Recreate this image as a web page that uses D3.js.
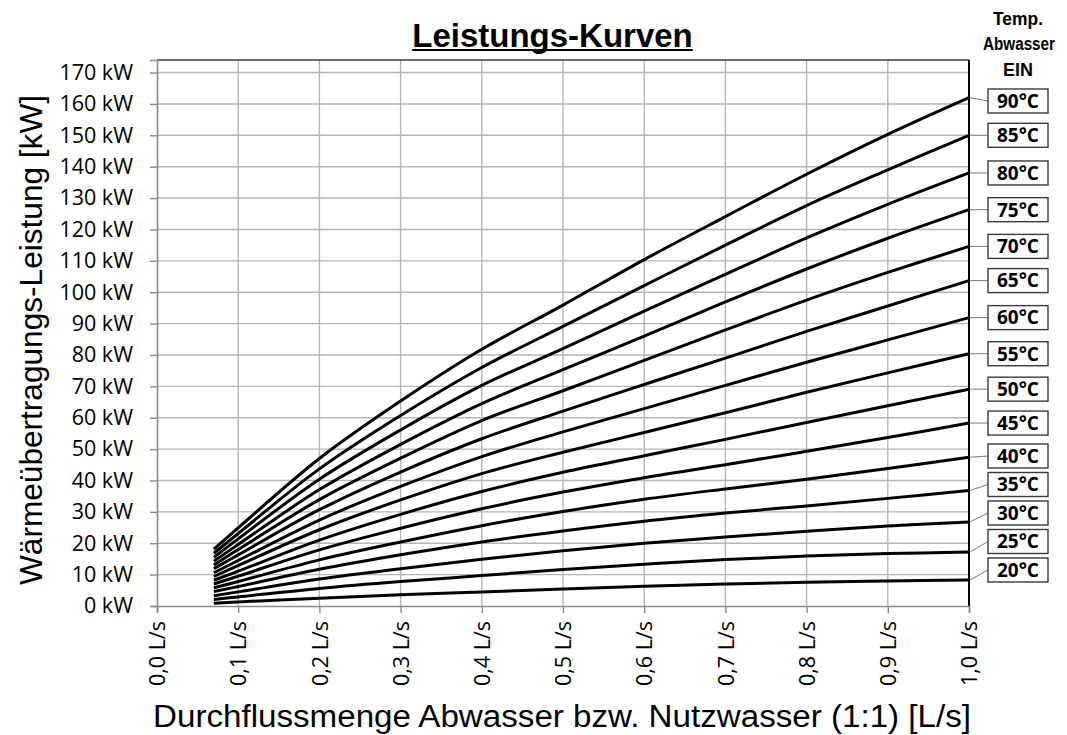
<!DOCTYPE html>
<html><head><meta charset="utf-8">
<script src="https://cdn.jsdelivr.net/npm/d3@7"></script>
<style>body{margin:0;background:#fff} svg{display:block}</style>
</head><body><svg id="c" width="1067" height="735"></svg>
<script>
// ---- data ----
const flows = [0.07, 0.1, 0.2, 0.3, 0.4, 0.5, 0.6, 0.7, 0.8, 0.9, 1.0];
const temps = [90, 85, 80, 75, 70, 65, 60, 55, 50, 45, 40, 35, 30, 25, 20];
const p90 = [18.1, 24.9, 47.0, 65.3, 81.8, 95.9, 110.4, 124.1, 137.6, 150.3, 162.0];
const p85 = [16.8, 23.1, 43.7, 60.7, 76.0, 89.1, 102.1, 115.0, 127.6, 139.0, 150.0];
const p80 = [15.5, 21.4, 40.4, 56.1, 70.3, 82.0, 94.0, 105.7, 117.3, 128.0, 138.0];
const p75 = [14.3, 19.6, 37.1, 51.5, 64.5, 75.3, 86.0, 96.9, 107.4, 117.2, 126.3];
const p70 = [13.1, 18.0, 33.9, 47.1, 59.1, 68.6, 78.3, 88.0, 97.5, 106.3, 114.6];
const p65 = [11.9, 16.3, 30.7, 42.7, 53.3, 62.1, 70.6, 79.0, 87.5, 95.6, 103.7];
const p60 = [10.6, 14.5, 27.4, 38.1, 47.6, 55.5, 62.9, 70.3, 77.7, 84.8, 91.9];
const p55 = [9.4, 12.9, 24.3, 33.8, 42.2, 49.0, 55.3, 61.6, 68.1, 74.3, 80.4];
const p50 = [8.2, 11.1, 21.0, 29.2, 36.5, 42.6, 47.9, 53.1, 58.5, 63.8, 69.1];
const p45 = [7.0, 9.5, 17.9, 24.8, 31.0, 36.3, 40.9, 45.0, 49.3, 53.7, 58.3];
const p40 = [5.8, 7.8, 14.7, 20.4, 25.6, 30.1, 34.0, 37.3, 40.4, 43.8, 47.4];
const p35 = [4.6, 6.2, 11.7, 16.3, 20.4, 23.9, 27.0, 29.6, 31.9, 34.3, 36.8];
const p30 = [3.3, 4.5, 8.6, 11.9, 14.9, 17.6, 20.0, 22.0, 23.8, 25.5, 26.8];
const p25 = [2.1, 2.9, 5.6, 7.8, 9.7, 11.6, 13.3, 14.8, 15.9, 16.7, 17.2];
const p20 = [0.9, 1.3, 2.5, 3.6, 4.5, 5.4, 6.3, 7.0, 7.6, 8.0, 8.3];
const seriesValues = [p90, p85, p80, p75, p70, p65, p60, p55, p50, p45, p40, p35, p30, p25, p20];
const xTicks = [0, 0.1, 0.2, 0.3, 0.4, 0.5, 0.6, 0.7, 0.8, 0.9, 1.0];
const xTickLabels = ["0,0 L/s","0,1 L/s","0,2 L/s","0,3 L/s","0,4 L/s","0,5 L/s","0,6 L/s","0,7 L/s","0,8 L/s","0,9 L/s","1,0 L/s"];
const yTicks = [0,10,20,30,40,50,60,70,80,90,100,110,120,130,140,150,160,170];
const yTickLabels = yTicks.map(v => v + " kW");
const titleText = "Leistungs-Kurven";
const xTitle = "Durchflussmenge Abwasser bzw. Nutzwasser (1:1) [L/s]";
const yTitle = "Wärmeübertragungs-Leistung [kW]";
const legendTitle = ["Temp.", "Abwasser", "EIN"];

// ---- layout ----
const svg = d3.select("#c");
const L = 157, R = 969, T = 60, B = 606;
const x = d3.scaleLinear().domain([0, 1]).range([L, R]);
const y = d3.scaleLinear().domain([0, 174]).range([B, T]);
const sans = "'Liberation Sans', Arial, sans-serif";
const tickFont = "'Open Sans', 'Noto Sans', sans-serif";

// grid
const grid = svg.append("g").attr("stroke", "#b5b5b5").attr("stroke-width", 1.4);
grid.selectAll("line.v").data(xTicks.slice(1)).join("line")
  .attr("x1", d => x(d)).attr("x2", d => x(d)).attr("y1", T).attr("y2", B);
grid.selectAll("line.h").data(yTicks.slice(1)).join("line")
  .attr("x1", L).attr("x2", R).attr("y1", d => y(d)).attr("y2", d => y(d));

// plot border top/right
svg.append("line").attr("x1", L).attr("x2", R).attr("y1", T).attr("y2", T)
  .attr("stroke", "#3a3a3a").attr("stroke-width", 1.5);
svg.append("line").attr("x1", R).attr("x2", R).attr("y1", T).attr("y2", B)
  .attr("stroke", "#000").attr("stroke-width", 2);

// y axis
const yAxis = svg.append("g").attr("transform", `translate(${L},0)`)
  .call(d3.axisLeft(y).tickValues(yTicks).tickSize(7).tickPadding(17)
    .tickFormat((d, i) => yTickLabels[i]));
yAxis.select(".domain").attr("stroke", "#8a8a8a").attr("stroke-width", 1.6);
yAxis.selectAll(".tick line").attr("stroke", "#8a8a8a").attr("stroke-width", 1.4);
yAxis.selectAll("text").attr("font-family", tickFont).attr("font-size", 21.5).attr("fill", "#000");

// x axis
const xAxis = svg.append("g").attr("transform", `translate(0,${B})`)
  .call(d3.axisBottom(x).tickValues(xTicks).tickSize(7)
    .tickFormat((d, i) => xTickLabels[i]));
xAxis.select(".domain").attr("stroke", "#8a8a8a").attr("stroke-width", 1.6);
xAxis.selectAll(".tick line").attr("stroke", "#8a8a8a").attr("stroke-width", 1.4);
xAxis.selectAll("text").attr("font-family", tickFont).attr("font-size", 21.5).attr("fill", "#000")
  .attr("transform", "rotate(-90)").attr("text-anchor", "end")
  .attr("x", -15).attr("y", 0).attr("dy", "0.36em");

// curves
const line = d3.line().x(d => x(d[0])).y(d => y(d[1])).curve(d3.curveCatmullRom.alpha(0.5));
const series = temps.map((t, i) => ({ t, pts: flows.map((f, j) => [f, seriesValues[i][j]]) }));
svg.append("g").selectAll("path").data(series).join("path")
  .attr("d", d => line(d.pts)).attr("fill", "none")
  .attr("stroke", "#000").attr("stroke-width", 3).attr("stroke-linejoin", "round");

// legend labels with simple collision resolution inside bounds
const boxW = 60, boxH = 24, boxX = 988, gap = 28.5, yMinLab = 101, yMaxLab = 570;
const labels = series.map(s => ({ t: s.t, yEnd: y(s.pts[s.pts.length - 1][1]) }));
labels.forEach(l => l.y = Math.max(yMinLab, Math.min(yMaxLab, l.yEnd)));
for (let it = 0; it < 300; it++) {
  for (let i = 1; i < labels.length; i++) {
    const a = labels[i - 1], b = labels[i];
    const d = b.y - a.y;
    if (d < gap) { const m = (gap - d) / 2; a.y -= m; b.y += m; }
  }
  labels.forEach(l => l.y = Math.max(yMinLab, Math.min(yMaxLab, l.y)));
}
const lg = svg.append("g");
lg.selectAll("line").data(labels).join("line")
  .attr("x1", R + 1).attr("y1", d => d.yEnd).attr("x2", boxX).attr("y2", d => d.y)
  .attr("stroke", "#7a7a7a").attr("stroke-width", 1);
lg.selectAll("rect").data(labels).join("rect")
  .attr("x", boxX).attr("y", d => d.y - boxH / 2).attr("width", boxW).attr("height", boxH)
  .attr("fill", "#fff").attr("stroke", "#3a3a3a").attr("stroke-width", 1.4);
lg.selectAll("text").data(labels).join("text")
  .attr("x", boxX + boxW / 2).attr("y", d => d.y).attr("dy", "0.36em")
  .attr("text-anchor", "middle").attr("font-family", tickFont).attr("font-weight", "bold")
  .attr("font-size", 19).text(d => d.t + "°C");

// legend title
const ltX = [1018, 1019, 1018], ltY = [25, 50, 76], ltW = [50, 72, 30];
svg.append("g").selectAll("text").data(legendTitle).join("text")
  .attr("x", (d, i) => ltX[i]).attr("y", (d, i) => ltY[i]).attr("text-anchor", "middle")
  .attr("font-family", sans).attr("font-weight", "bold").attr("font-size", 17.5)
  .attr("textLength", (d, i) => ltW[i]).attr("lengthAdjust", "spacingAndGlyphs")
  .text(d => d);

// title
const tt = svg.append("text").attr("x", 552.5).attr("y", 47).attr("text-anchor", "middle")
  .attr("font-family", sans).attr("font-weight", "bold").attr("font-size", 33).text(titleText);
const tw = tt.node().getComputedTextLength();
svg.append("line").attr("x1", 552.5 - tw / 2).attr("x2", 552.5 + tw / 2)
  .attr("y1", 50).attr("y2", 50).attr("stroke", "#000").attr("stroke-width", 2);

// axis titles
svg.append("text").attr("x", 562).attr("y", 727).attr("text-anchor", "middle")
  .attr("font-family", sans).attr("font-size", 31).attr("fill", "#000")
  .attr("textLength", 818).attr("lengthAdjust", "spacingAndGlyphs").text(xTitle);
svg.append("text").attr("transform", "translate(42,340) rotate(-90)").attr("text-anchor", "middle")
  .attr("font-family", sans).attr("font-size", 31).attr("fill", "#000")
  .attr("textLength", 490).attr("lengthAdjust", "spacingAndGlyphs").text(yTitle);
</script></body></html>
